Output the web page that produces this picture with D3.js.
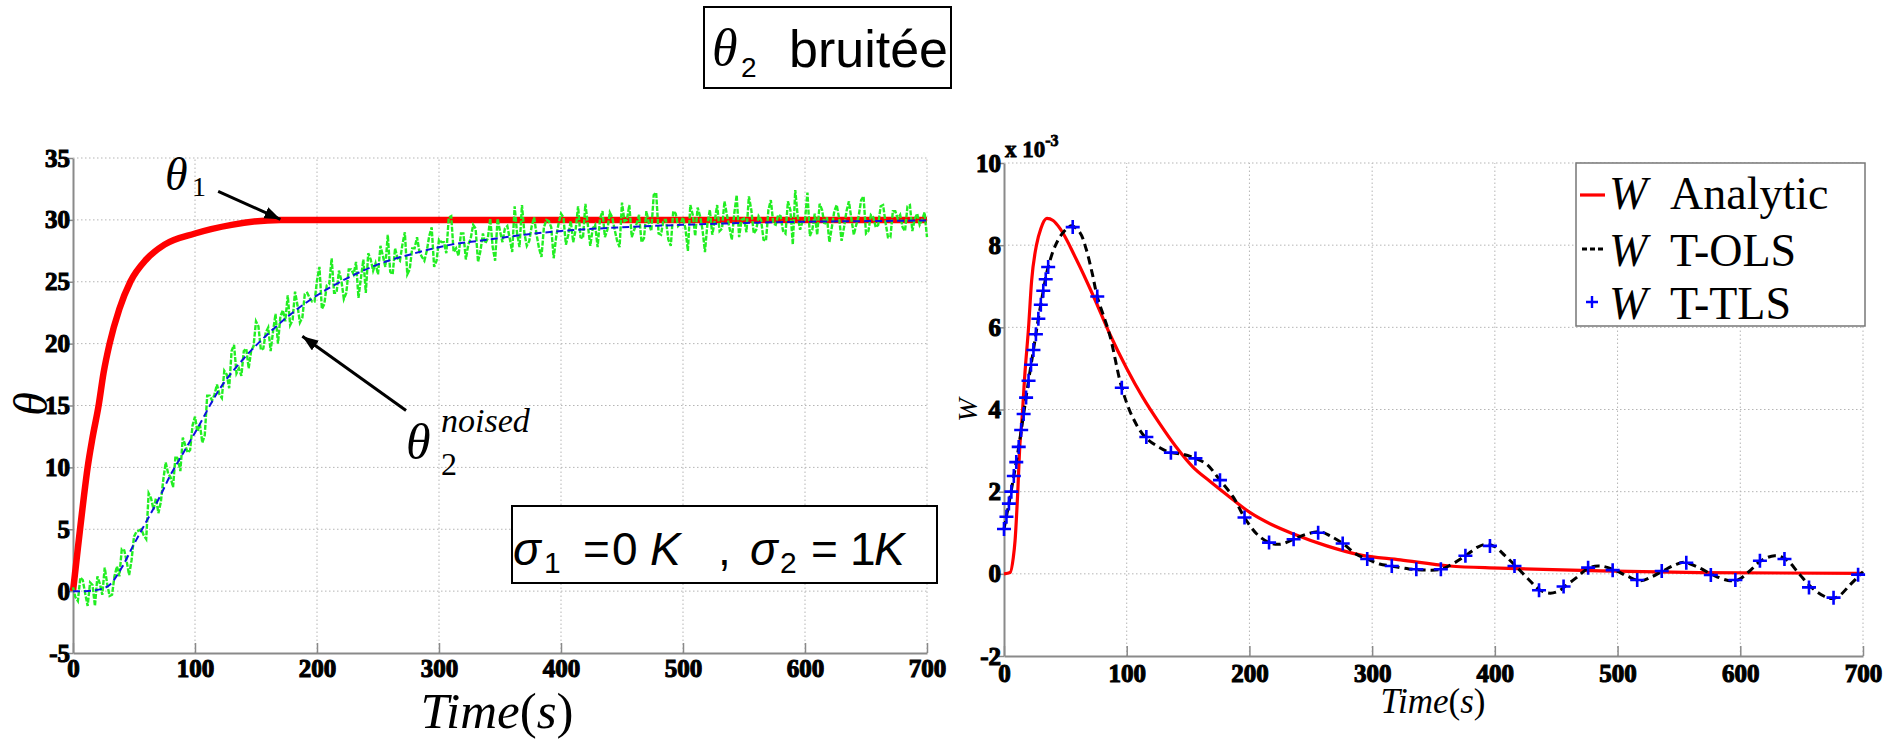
<!DOCTYPE html>
<html><head><meta charset="utf-8">
<script src="https://cdn.jsdelivr.net/npm/d3@7"></script>
<style>
body{margin:0;background:#fff;}
svg{display:block;}
</style></head><body>
<svg id="c" width="1901" height="739"></svg>
<script>
// ---------------- DATA ----------------
const timeTicks  = [0,100,200,300,400,500,600,700];
const thetaTicks = [-5,0,5,10,15,20,25,30,35];
const wTicks     = [-2,0,2,4,6,8,10];           // x 10^-3

// theta_1 (red, noise-free)
const theta1T = [0,3,6,9,12,16,21,25,30,38,47,60,75,100,130,170,200,300,400,500,600,700];
const theta1V = [0,2.6,5.2,7.7,10,12.4,15,17.6,20,22.8,25,26.8,28,28.9,29.6,30,30,30,30,30,30,30];

// theta_2 exact (blue dashed)
const theta2T = [0,10,20,30,40,50,60,70,80,90,100,120,140,160,180,200,225,250,280,310,340,370,400,450,500,550,600,650,700];
const theta2V = [0,0,0.1,0.5,1.9,3.8,5.6,7.4,9.4,11.1,12.8,16.3,18.8,20.8,22.5,23.9,25.3,26.4,27.3,28,28.4,28.8,29.1,29.4,29.6,29.75,29.85,29.9,29.95];

// theta_2 noised (green), one reading every 2 s from t = 0 to 700
const noisedStep = 2;
const theta2Noised = [
 0.3,-0.5,-0.8,1.1,0.9,-0.2,-1.2,0.7,0.5,-1.2,1.2,0.6,-0.3,1.9,0.6,-0.4,-0.3,1.2,2.0,1.2,
 3.4,3.3,2.4,1.3,2.5,4.4,4.8,4.9,5.0,4.5,4.2,7.9,7.5,6.6,7.5,6.3,7.2,9.0,10.4,9.5,
 9.2,8.4,10.9,10.7,9.7,12.4,11.8,11.2,11.4,13.4,14.1,12.9,13.5,12.0,12.6,15.8,15.8,15.4,15.9,16.7,
 15.9,15.6,17.8,17.5,16.4,19.4,19.9,17.6,18.0,17.4,19.4,19.6,18.0,19.4,19.8,21.8,21.4,19.5,19.6,20.9,
 21.3,19.4,21.0,22.4,20.0,22.2,22.7,21.8,23.9,21.5,21.9,24.2,23.1,21.7,22.1,24.0,24.1,23.7,23.4,23.4,
 25.1,26.2,22.8,23.2,24.7,24.8,26.9,24.1,24.1,25.9,25.1,23.6,24.1,26.0,26.0,25.6,26.6,23.7,25.3,26.8,
 24.1,27.3,26.8,25.9,26.5,25.6,27.9,27.1,26.2,28.8,25.8,25.6,27.7,26.9,26.7,28.0,29.0,25.6,26.0,27.7,
 27.7,28.6,27.4,27.0,26.7,27.5,28.7,29.4,26.2,26.7,28.4,28.2,28.2,27.3,30.2,30.3,27.4,27.7,27.1,28.9,
 28.9,26.8,28.0,28.5,29.6,29.3,26.6,27.5,28.9,28.1,28.5,30.1,27.8,26.7,30.1,29.1,28.2,29.3,29.5,28.5,
 27.4,31.1,28.9,27.8,31.2,28.9,27.9,28.3,29.5,30.2,28.8,27.7,27.0,29.4,30.0,29.9,29.4,26.9,28.6,29.7,
 30.5,30.2,28.0,28.8,29.9,28.2,29.2,31.1,28.6,28.5,31.3,29.6,27.9,29.3,29.6,27.8,30.1,30.7,28.6,29.2,
 30.6,30.2,29.2,28.3,27.8,31.4,29.9,30.0,31.2,28.6,29.2,29.7,30.4,28.2,28.5,30.7,29.7,29.1,32.0,32.2,
 28.9,28.8,30.0,30.0,28.4,27.9,30.7,30.5,29.5,29.7,30.2,29.3,27.5,31.2,30.4,28.7,31.0,30.3,29.2,27.4,
 29.7,30.8,28.8,29.9,31.2,29.1,29.3,31.5,30.4,29.4,28.4,30.5,32.0,28.6,30.0,30.1,29.0,31.9,30.8,28.9,
 29.2,30.3,30.0,28.4,28.3,30.8,31.6,29.7,29.6,30.4,30.3,29.1,28.9,31.5,30.8,28.0,32.4,30.3,29.2,29.9,
 30.0,32.2,28.7,29.2,30.5,28.8,31.3,30.8,29.6,30.2,28.2,29.4,30.7,31.2,30.1,28.3,29.4,30.7,31.5,30.1,
 28.8,29.6,30.3,31.6,31.9,28.9,29.1,30.4,30.2,29.4,29.6,31.1,31.2,29.8,28.6,28.6,30.7,30.7,30.1,30.4,
 29.4,29.1,31.1,31.2,29.1,30.1,30.5,29.6,30.0,30.6,28.6
];

// W analytic (red), values in 1e-3
const analyticT = [0,5,7.6,9,11,13,14.4,17,20,22.5,26.6,30,35,40,46,59,73,86,100,113,127,140,154,168,181,200,218,236,263,290,323,363,404,486,567,700];
const analyticV = [0,0.03,0.4,0.8,1.86,3.16,3.65,4.86,5.99,7.13,8.02,8.4,8.65,8.6,8.39,7.65,6.75,5.85,5.0,4.3,3.65,3.1,2.6,2.25,1.94,1.5,1.2,0.97,0.68,0.46,0.34,0.19,0.14,0.07,0.03,0.01];

// W T-OLS (black dashed), values in 1e-3
const olsT = [0,4,8,12,16,20,24,28,32,36,42,48,55,62,67,72,76,86,96,105,115,127,136,146,156,165,176,187,196,206,216,225,236,247,258,266,276,287,296,306,316,330,345,356,366,376,386,393,400,408,417,427,437,445,452,457,467,477,486,498,508,519,528,537,547,554,565,578,590,598,607,617,628,637,648,658,668,674,680,690,700];
const olsV = [1.09,1.71,2.38,3.09,3.89,4.70,5.45,6.21,6.89,7.47,8.0,8.3,8.47,8.3,7.9,7.3,6.75,5.83,4.53,3.80,3.33,3.07,2.95,2.91,2.81,2.67,2.28,1.86,1.37,0.97,0.76,0.72,0.84,0.97,1.02,0.92,0.74,0.48,0.36,0.24,0.19,0.12,0.09,0.11,0.25,0.44,0.65,0.72,0.66,0.45,0.19,-0.12,-0.40,-0.47,-0.42,-0.31,-0.08,0.15,0.19,0.09,-0.06,-0.17,-0.07,0.07,0.22,0.28,0.17,-0.03,-0.16,-0.15,0.05,0.32,0.44,0.36,0.0,-0.33,-0.54,-0.6,-0.55,-0.25,0.05];

// W T-TLS (blue +), values in 1e-3
const tlsT = [0,2,4,6,8,10,12,14,16,18,20,22,24,26,28,30,32,34,36,
  56,76,96,116,136,156,176,196,216,236,256,276,296,316,336,356,376,396,416,436,456,476,496,516,536,556,576,596,616,636,656,676,696];
const tlsV = [1.09,1.39,1.71,2.0,2.38,2.72,3.09,3.5,3.89,4.29,4.70,5.09,5.45,5.83,6.21,6.55,6.89,7.17,7.47,
  8.44,6.75,4.53,3.33,2.95,2.81,2.28,1.37,0.76,0.84,1.00,0.74,0.36,0.19,0.11,0.11,0.44,0.68,0.19,-0.40,-0.31,0.15,0.09,-0.15,0.07,0.27,-0.03,-0.15,0.32,0.36,-0.33,-0.58,-0.02];

// ---------------- DRAW ----------------
const svg = d3.select('#c');
const SERIF = '"Liberation Serif","Times New Roman",serif';
const SANS  = '"Liberation Sans",Arial,sans-serif';

const xL = d3.scaleLinear().domain([0,700]).range([73,927]);
const yL = d3.scaleLinear().domain([-5,35]).range([653,158]);
const xR = d3.scaleLinear().domain([0,700]).range([1004,1863]);
const yR = d3.scaleLinear().domain([-2,10]).range([656,163]);

svg.append('defs').append('marker')
  .attr('id','ah').attr('markerUnits','userSpaceOnUse')
  .attr('markerWidth',18).attr('markerHeight',14)
  .attr('refX',16).attr('refY',6).attr('orient','auto')
  .append('path').attr('d','M0,0 L16,6 L0,12 Z').attr('fill','#000');

function grid(x, y, xt, yt){
  const g = svg.append('g').attr('stroke','#b5b5b5').attr('stroke-width',1).attr('stroke-dasharray','1.5,2.5');
  g.selectAll('.gv').data(xt.slice(1)).join('line')
    .attr('x1',d=>x(d)).attr('x2',d=>x(d)).attr('y1',y.range()[0]).attr('y2',y.range()[1]);
  g.selectAll('.gh').data(yt.slice(1)).join('line')
    .attr('y1',d=>y(d)).attr('y2',d=>y(d)).attr('x1',x.range()[0]).attr('x2',x.range()[1]);
}

const fmt = d => String(d);   // plain hyphen-minus like the original
function axes(x, y, xt, yt, padX){
  const gx = svg.append('g').attr('transform',`translate(0,${y.range()[0]})`)
    .call(d3.axisBottom(x).tickValues(xt).tickFormat(fmt).tickSizeInner(-10).tickSizeOuter(0).tickPadding(padX));
  const gy = svg.append('g').attr('transform',`translate(${x.range()[0]},0)`)
    .call(d3.axisLeft(y).tickValues(yt).tickFormat(fmt).tickSizeInner(5).tickSizeOuter(0).tickPadding(-2));
  [gx,gy].forEach(g=>{
    g.attr('font-size',25).attr('font-family',SERIF).attr('font-weight','bold');
    g.select('.domain').attr('stroke','#8a8a8a').attr('stroke-width',2);
    g.selectAll('.tick line').attr('stroke','#8a8a8a').attr('stroke-width',1.5);
    g.selectAll('.tick text').attr('fill','#000').attr('stroke','#000').attr('stroke-width',1.1)
      .attr('font-family',SERIF).attr('font-weight','bold').attr('font-size',25);
  });
}

// ---- left chart ----
grid(xL, yL, timeTicks, thetaTicks);
axes(xL, yL, timeTicks, thetaTicks, 6);

const lineL = d3.line().x(d=>xL(d[0])).y(d=>yL(d[1])).curve(d3.curveMonotoneX);
svg.append('path').attr('d', lineL(d3.zip(theta1T, theta1V)))
  .attr('fill','none').attr('stroke','#ff0000').attr('stroke-width',6.5);
svg.append('path').attr('d', d3.line().x(d=>xL(d[0])).y(d=>yL(d[1]))(theta2Noised.map((v,i)=>[i*noisedStep,v])))
  .attr('fill','none').attr('stroke','#22ee22').attr('stroke-width',2.4).attr('stroke-dasharray','5,1.5');
svg.append('path').attr('d', lineL(d3.zip(theta2T, theta2V)))
  .attr('fill','none').attr('stroke','#1010e0').attr('stroke-width',2).attr('stroke-dasharray','7,4');

// arrows
svg.append('line').attr('x1',xL(119)).attr('y1',yL(32.3)).attr('x2',xL(170)).attr('y2',yL(30.05))
  .attr('stroke','#000').attr('stroke-width',3).attr('marker-end','url(#ah)');
svg.append('line').attr('x1',xL(273)).attr('y1',yL(14.6)).attr('x2',xL(188)).attr('y2',yL(20.6))
  .attr('stroke','#000').attr('stroke-width',3).attr('marker-end','url(#ah)');

// theta labels
const l1 = svg.append('text').attr('x',165).attr('y',190).attr('font-family',SERIF).attr('font-size',46);
l1.append('tspan').attr('font-style','italic').text('θ');
l1.append('tspan').attr('x',192).attr('y',196).attr('font-size',28).text('1');

const l2 = svg.append('text').attr('x',406).attr('y',459).attr('font-family',SERIF).attr('font-size',50);
l2.append('tspan').attr('font-style','italic').text('θ');
l2.append('tspan').attr('x',441).attr('y',432).attr('font-style','italic').attr('font-size',34).text('noised');
l2.append('tspan').attr('x',441).attr('y',475).attr('font-size',32).text('2');

// axis titles left
svg.append('text').attr('transform','translate(47,404) rotate(-90)').attr('text-anchor','middle')
  .attr('font-family',SERIF).attr('font-style','italic').attr('font-size',48).text('θ');
function timeLabel(cx, by, fs){
  const t = svg.append('text').attr('x',cx).attr('y',by).attr('text-anchor','middle')
    .attr('font-family',SERIF).attr('font-size',fs);
  t.append('tspan').attr('font-style','italic').text('Time');
  t.append('tspan').text('(');
  t.append('tspan').attr('font-style','italic').text('s');
  t.append('tspan').text(')');
}
timeLabel(497, 728, 51);

// sigma box
svg.append('rect').attr('x',512).attr('y',506).attr('width',425).attr('height',77)
  .attr('fill','#fff').attr('stroke','#000').attr('stroke-width',2);
const sg = svg.append('text').attr('font-family',SANS).attr('font-size',46).attr('y',565);
[['σ',513,565,46,'italic'],['1',544,573,30,'normal'],['=',583,565,46,'normal'],['0',612,565,46,'normal'],
 ['K',650,565,46,'italic'],[',',718,565,46,'normal'],['σ',750,565,46,'italic'],['2',780,573,30,'normal'],
 ['=',811,565,46,'normal'],['1',850,565,46,'normal'],['K',874,565,46,'italic']].forEach(p=>{
  sg.append('tspan').attr('x',p[1]).attr('y',p[2]).attr('font-size',p[3]).attr('font-style',p[4]).text(p[0]);
});

// title box
svg.append('rect').attr('x',704).attr('y',7).attr('width',247).attr('height',81)
  .attr('fill','#fff').attr('stroke','#000').attr('stroke-width',2);
const tt = svg.append('text').attr('x',712).attr('y',65).attr('font-family',SANS).attr('font-size',52);
tt.append('tspan').attr('font-family',SERIF).attr('font-style','italic').text('θ');
tt.append('tspan').attr('x',741).attr('y',77).attr('font-size',28).text('2');
tt.append('tspan').attr('x',789).attr('y',67).text('bruitée');

// ---- right chart ----
grid(xR, yR, timeTicks, wTicks);
axes(xR, yR, timeTicks, wTicks, 8);

const lineR = d3.line().x(d=>xR(d[0])).y(d=>yR(d[1])).curve(d3.curveMonotoneX);
svg.append('path').attr('d', lineR(d3.zip(analyticT, analyticV)))
  .attr('fill','none').attr('stroke','#ff0000').attr('stroke-width',3.2);
svg.append('path').attr('d', lineR.curve(d3.curveCatmullRom)(d3.zip(olsT, olsV)))
  .attr('fill','none').attr('stroke','#000').attr('stroke-width',3).attr('stroke-dasharray','8,5');
svg.append('g').selectAll('path').data(d3.zip(tlsT, tlsV)).join('path')
  .attr('transform',d=>`translate(${xR(d[0])},${yR(d[1])})`)
  .attr('d','M-7,0H7M0,-7V7').attr('stroke','#0000ff').attr('stroke-width',2.6);

// exponent label
const ex = svg.append('text').attr('x',1005).attr('y',157)
  .attr('font-family',SERIF).attr('font-weight','bold').attr('font-size',23)
  .attr('stroke','#000').attr('stroke-width',0.8);
ex.append('tspan').text('x 10');
ex.append('tspan').attr('dy',-11).attr('font-size',16).text('-3');

svg.append('text').attr('transform','translate(977,410) rotate(-90)').attr('text-anchor','middle')
  .attr('font-family',SERIF).attr('font-style','italic').attr('font-size',28).text('W');
timeLabel(1433, 713, 35);

// legend
svg.append('rect').attr('x',1576).attr('y',163).attr('width',289).attr('height',163)
  .attr('fill','#fff').attr('stroke','#777').attr('stroke-width',1.5);
svg.append('line').attr('x1',1580).attr('x2',1605).attr('y1',195).attr('y2',195).attr('stroke','#ff0000').attr('stroke-width',3.2);
svg.append('line').attr('x1',1582).attr('x2',1605).attr('y1',249).attr('y2',249).attr('stroke','#000').attr('stroke-width',3).attr('stroke-dasharray','5,3');
svg.append('path').attr('transform','translate(1592,302)').attr('d','M-6,0H6M0,-6V6').attr('stroke','#0000ff').attr('stroke-width',2.4);
[['Analytic',209],['T-OLS',266],['T-TLS',319]].forEach(r=>{
  const t = svg.append('text').attr('x',1609).attr('y',r[1]).attr('font-family',SERIF).attr('font-size',46);
  t.append('tspan').attr('font-style','italic').text('W');
  t.append('tspan').attr('x',1670).text(r[0]);
});
</script>
</body></html>
